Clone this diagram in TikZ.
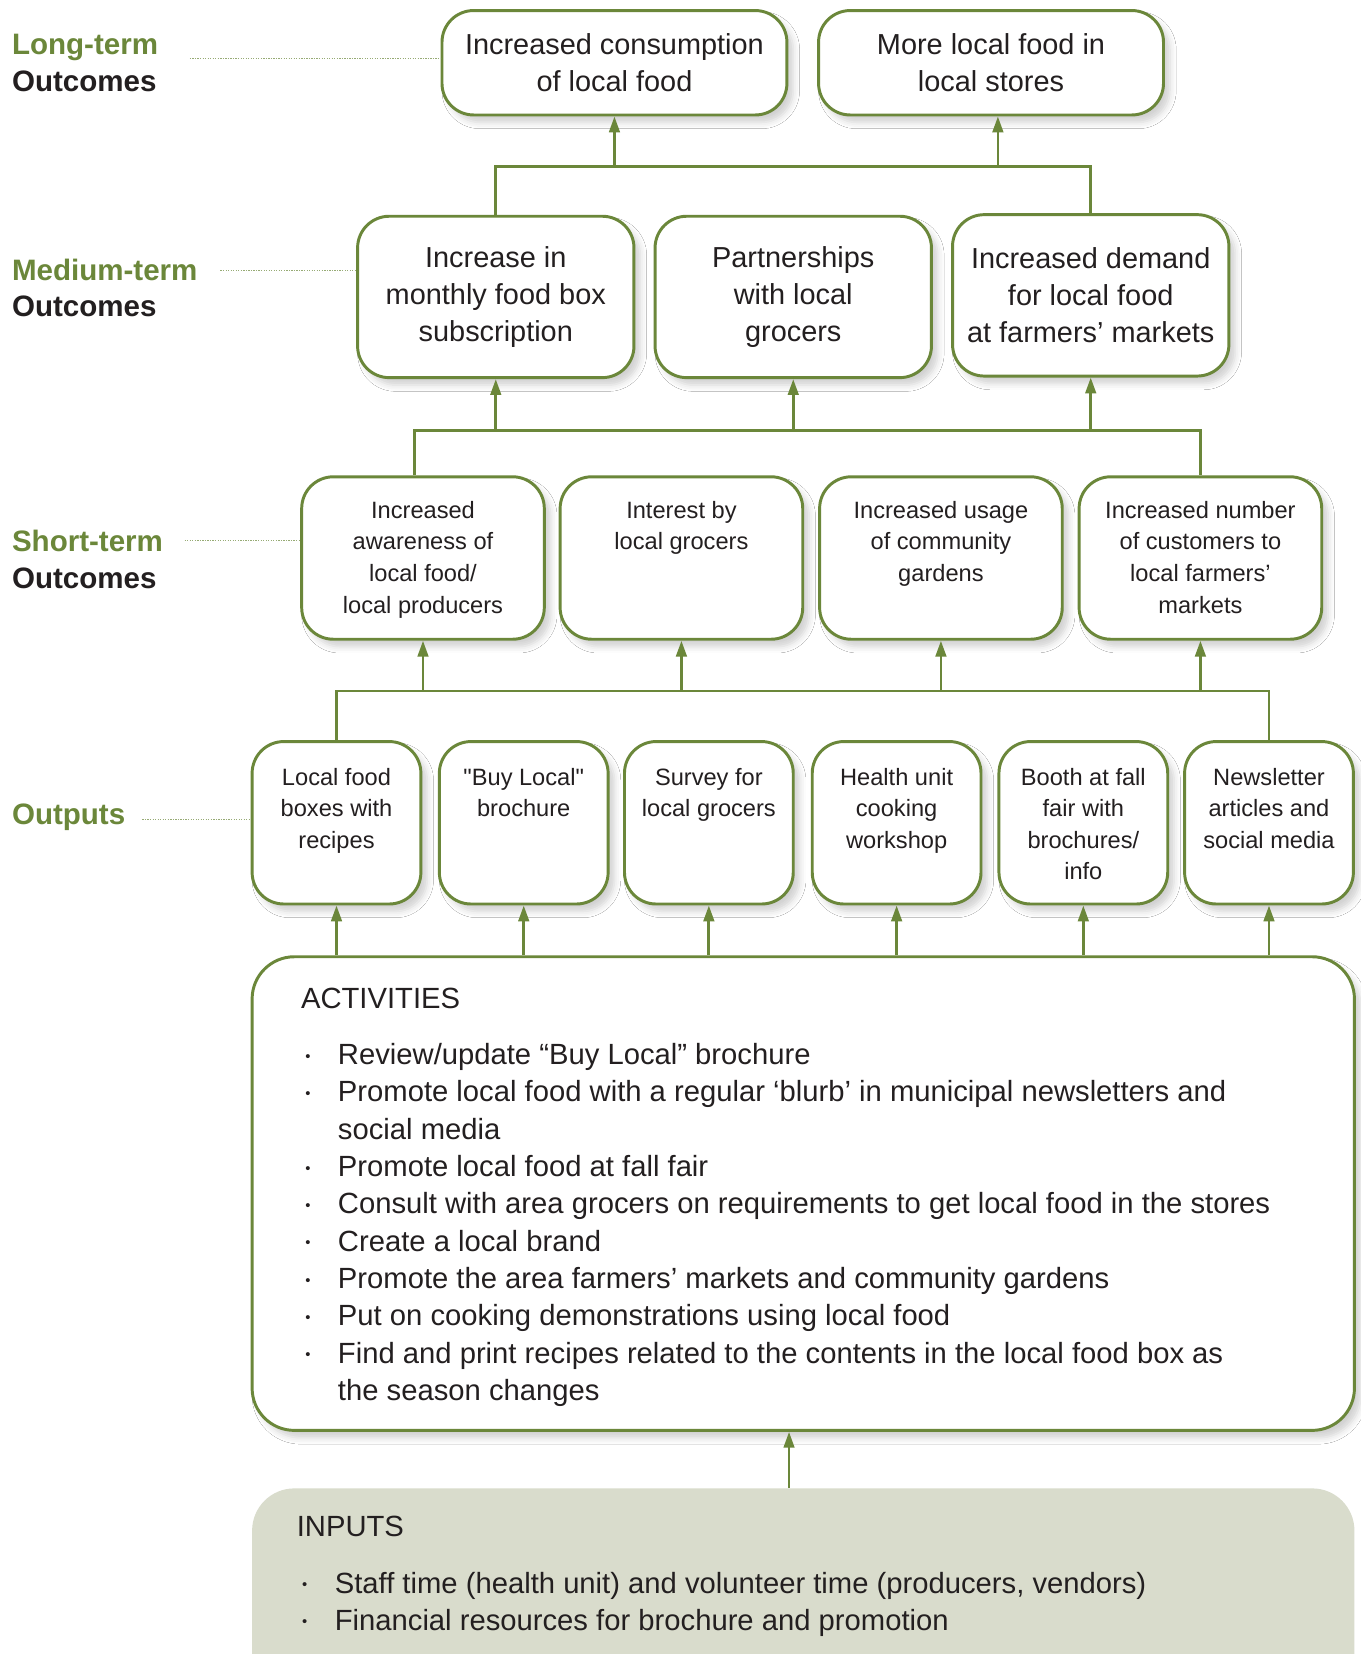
\documentclass[tikz,border=0pt]{standalone}
\usepackage{fontspec}
\setmainfont{Liberation Sans}
\usetikzlibrary{arrows.meta,shadows.blur}

\definecolor{leaf}{RGB}{107,135,58}
\definecolor{sage}{RGB}{217,220,204}
\definecolor{ink}{RGB}{35,31,32}

\newcommand{\dotmark}{\raisebox{0.22ex}{\fontsize{7}{7}\selectfont •}}
% straight double quote, set as a glyph so the TeX ligature mapping leaves it alone
\newcommand{\plainquote}{\XeTeXglyph\the\XeTeXcharglyph"22\relax}

\tikzset{
  card/.style={draw=leaf, line width=1.4pt, fill=white, rounded corners=15pt, inner sep=0pt,
    blur shadow={shadow xshift=3pt, shadow yshift=-3.5pt, shadow blur radius=3pt, shadow opacity=18}},
  bigtext/.style={font=\fontsize{13.7}{17.5}\selectfont, align=center, text=ink},
  smalltext/.style={font=\fontsize{11.2}{15}\selectfont, align=center, text=ink, inner sep=0pt, anchor=north},
  longcard/.style={card, minimum width=163.5pt, minimum height=49.5pt, bigtext},
  medcard/.style={card, minimum width=131pt, minimum height=76.5pt, bigtext},
  shortcard/.style={card, minimum width=115pt, minimum height=77pt},
  outcard/.style={card, minimum width=80pt, minimum height=77pt},
  link/.style={draw=leaf, line width=1.3pt},
  arrowup/.style={link, -{Triangle[length=7.5pt,width=5pt]}},
  guide/.style={draw=leaf!70, line width=0.4pt, dash pattern=on 0.6pt off 0.6pt},
  tier/.style={font=\fontsize{14}{17.5}\selectfont\bfseries, align=left, text=ink, inner sep=0pt, anchor=west},
  listtext/.style={font=\fontsize{13.85}{17.7}\selectfont, text=ink, inner sep=0pt},
}

\begin{document}
\begin{tikzpicture}[x=0.5pt,y=-0.5pt]
\useasboundingbox (0,0) rectangle (1290,1568);
\clip (0,0) rectangle (1290,1568);
\fill[white] (0,0) rectangle (1290,1568);

% ---- tier labels on the left ----
\node[tier] (tierL) at (11,59.5) {\textcolor{leaf}{Long-term}\\Outcomes};
\node[tier] (tierM) at (11,273) {\textcolor{leaf}{Medium-term}\\Outcomes};
\node[tier] (tierS) at (11,530.5) {\textcolor{leaf}{Short-term}\\Outcomes};
\node[tier] (tierO) at (11,775) {\textcolor{leaf}{Outputs}};

% ---- long-term outcomes ----
\node[longcard] (lt1) at (582.5,59.5) {Increased consumption\\of local food};
\node[longcard] (lt2) at (939.5,59.5) {More local food in\\local stores};

% ---- medium-term outcomes ----
\node[medcard] (mt1) at (470,281.5) {Increase in\\monthly food box\\subscription};
\node[medcard] (mt2) at (752,281.5) {Partnerships\\with local\\grocers};
\node[medcard] (mt3) at (1034,280) {Increased demand\\for local food\\at farmers’ markets};

% ---- short-term outcomes ----
\node[shortcard] (st1) at (401,529) {};
\node[shortcard] (st2) at (646,529) {};
\node[shortcard] (st3) at (892,529) {};
\node[shortcard] (st4) at (1138,529) {};
\node[smalltext] (st1t) at ([yshift=-12pt]st1.north) {Increased\\awareness of\\local food/\\local producers};
\node[smalltext] (st2t) at ([yshift=-12pt]st2.north) {Interest by\\local grocers};
\node[smalltext] (st3t) at ([yshift=-12pt]st3.north) {Increased usage\\of community\\gardens};
\node[smalltext] (st4t) at ([yshift=-12pt]st4.north) {Increased number\\of customers to\\local farmers’\\markets};

% ---- outputs ----
\node[outcard] (ot1) at (319,780) {};
\node[outcard] (ot2) at (496.5,780) {};
\node[outcard] (ot3) at (672,780) {};
\node[outcard] (ot4) at (850,780) {};
\node[outcard] (ot5) at (1027,780) {};
\node[outcard] (ot6) at (1203,780) {};
\node[smalltext] (ot1t) at ([yshift=-13pt]ot1.north) {Local food\\boxes with\\recipes};
\node[smalltext] (ot2t) at ([yshift=-13pt]ot2.north) {\plainquote Buy Local\plainquote\\brochure};
\node[smalltext] (ot3t) at ([yshift=-13pt]ot3.north) {Survey for\\local grocers};
\node[smalltext] (ot4t) at ([yshift=-13pt]ot4.north) {Health unit\\cooking\\workshop};
\node[smalltext] (ot5t) at ([yshift=-13pt]ot5.north) {Booth at fall\\fair with\\brochures/\\info};
\node[smalltext] (ot6t) at ([yshift=-13pt]ot6.north) {Newsletter\\articles and\\social media};

% ---- activities ----
\node[card, rounded corners=20pt, minimum width=522.5pt, minimum height=224.5pt] (act) at (761.5,1131.5) {};
\node[listtext, anchor=base west] (acttitle) at (285,956) {ACTIVITIES};
\node[listtext, anchor=north west] (actlist) at (289,984) {%
  \begin{tabular}{@{}p{15.5pt}@{}l@{}}
  \dotmark & Review/update “Buy Local” brochure\\
  \dotmark & Promote local food with a regular ‘blurb’ in municipal newsletters and\\
    & social media\\
  \dotmark & Promote local food at fall fair\\
  \dotmark & Consult with area grocers on requirements to get local food in the stores\\
  \dotmark & Create a local brand\\
  \dotmark & Promote the area farmers’ markets and community gardens\\
  \dotmark & Put on cooking demonstrations using local food\\
  \dotmark & Find and print recipes related to the contents in the local food box as\\
    & the season changes
  \end{tabular}};

% ---- inputs ----
\node[fill=sage, rounded corners=20pt, minimum width=522.5pt, minimum height=114pt, inner sep=0pt] (inp) at (761.5,1525) {};
\node[listtext, anchor=base west] (inptitle) at (281,1457) {INPUTS};
\node[listtext, anchor=north west] (inplist) at (286,1485) {%
  \begin{tabular}{@{}p{15.5pt}@{}l@{}}
  \dotmark & Staff time (health unit) and volunteer time (producers, vendors)\\
  \dotmark & Financial resources for brochure and promotion
  \end{tabular}};

% ---- dotted guides from tier labels ----
\coordinate (gL) at (180,55);
\coordinate (gM) at (209,256);
\coordinate (gS) at (175,512);
\coordinate (gO) at (135,777);
\draw[guide] (gL) -- (gL -| lt1.west);
\draw[guide] (gM) -- (gM -| mt1.west);
\draw[guide] (gS) -- (gS -| st1.west);
\draw[guide] (gO) -- (gO -| ot1.west);

% ---- medium -> long ----
\coordinate (barA) at (0,158);
\draw[link] (mt1.north) |- (barA -| mt3.north) -- (mt3.north);
\coordinate (lt2in) at ([xshift=3.25pt]lt2.south);
\draw[arrowup] (lt1.south |- barA) -- (lt1.south);
\draw[arrowup] (lt2in |- barA) -- (lt2in);

% ---- short -> medium ----
\coordinate (barB) at (0,408);
\coordinate (st1up) at ([xshift=-4pt]st1.north);
\draw[link] (st1up) |- (barB -| st4.north) -- (st4.north);
\draw[arrowup] (mt1.south |- barB) -- (mt1.south);
\draw[arrowup] (mt2.south |- barB) -- (mt2.south);
\draw[arrowup] (mt3.south |- barB) -- (mt3.south);

% ---- outputs -> short ----
\coordinate (barC) at (0,655);
\draw[link] (ot1.north) |- (barC -| ot6.north) -- (ot6.north);
\draw[arrowup] (st1.south |- barC) -- (st1.south);
\draw[arrowup] (st2.south |- barC) -- (st2.south);
\draw[arrowup] (st3.south |- barC) -- (st3.south);
\draw[arrowup] (st4.south |- barC) -- (st4.south);

% ---- activities -> outputs ----
\foreach \o in {ot1,ot2,ot3,ot4,ot5,ot6}
  \draw[arrowup] (\o.south |- act.north) -- (\o.south);

% ---- inputs -> activities ----
\coordinate (inpup) at ([xshift=-6.75pt]inp.north);
\draw[arrowup] (inpup) -- (inpup |- act.south);
\end{tikzpicture}
\end{document}
